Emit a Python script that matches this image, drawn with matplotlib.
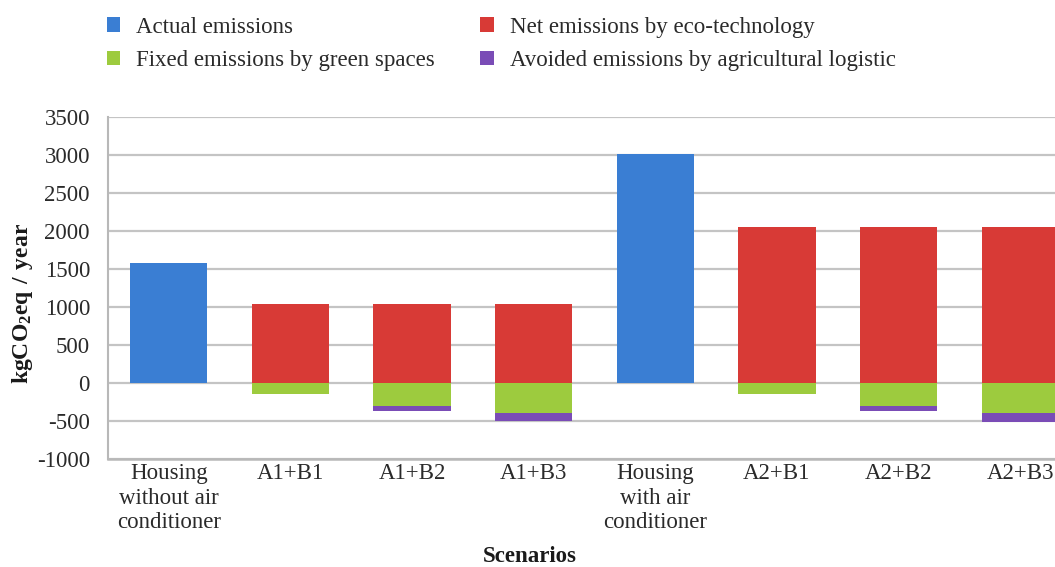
import matplotlib
matplotlib.use("Agg")
import matplotlib.pyplot as plt
import numpy as np

plt.rcParams["font.family"] = ["Liberation Serif", "DejaVu Serif"]
plt.rcParams["mathtext.fontset"] = "custom"
plt.rcParams["mathtext.rm"] = "Liberation Serif"
plt.rcParams["mathtext.bf"] = "Liberation Serif:bold"

categories = ["Housing\nwithout air\nconditioner", "A1+B1", "A1+B2", "A1+B3",
              "Housing\nwith air\nconditioner", "A2+B1", "A2+B2", "A2+B3"]
actual = [1580, 0, 0, 0, 3010, 0, 0, 0]
net_eco = [0, 1040, 1040, 1040, 0, 2050, 2050, 2050]
fixed_green = [0, -150, -305, -390, 0, -150, -305, -395]
avoided_agri = [0, 0, -60, -115, 0, 0, -65, -115]
yticks = [-1000, -500, 0, 500, 1000, 1500, 2000, 2500, 3000, 3500]

labels = ["Actual emissions", "Fixed emissions by green spaces",
          "Net emissions by eco-technology", "Avoided emissions by agricultural logistic"]
colors = {"actual": "#3a7ed3", "net": "#d83a36", "fixed": "#9dcb3e", "avoided": "#7a4cb6"}

W, H = 1055, 567
fig = plt.figure(figsize=(W / 100, H / 100), dpi=100)
ax = fig.add_axes([108 / W, (H - 459) / H, (1081 - 108) / W, (459 - 117) / H])

x = np.arange(len(categories))
bw = 0.635
b_act = ax.bar(x, actual, bw, color=colors["actual"], zorder=3)
b_net = ax.bar(x, net_eco, bw, color=colors["net"], zorder=3)
b_fix = ax.bar(x, fixed_green, bw, color=colors["fixed"], zorder=3)
b_avo = ax.bar(x, avoided_agri, bw, bottom=fixed_green, color=colors["avoided"], zorder=3)

ax.set_xlim(-0.5, len(categories) - 0.5)
ax.set_ylim(-1000, 3500)
ax.set_yticks(yticks)
ax.set_yticklabels([str(v) for v in yticks])
ax.set_xticks(x)
ax.set_xticklabels(categories, linespacing=1.22)
ax.tick_params(axis="both", length=0, labelsize=16.5)
ax.tick_params(axis="y", pad=13)
ax.tick_params(axis="x", pad=3)
for lab in ax.get_xticklabels() + ax.get_yticklabels():
    lab.set_color("#2a2a2a")

ax.grid(axis="y", color="#c4c4c4", linewidth=1.6, zorder=0)
for s in ["top", "right"]:
    ax.spines[s].set_visible(False)
ax.spines["left"].set_color("#b8b8b8")
ax.spines["left"].set_linewidth(1.5)
ax.spines["bottom"].set_color("#b8b8b8")
ax.spines["bottom"].set_linewidth(1.8)

fig.text(23 / W, 1 - 304 / H, r"$\mathbf{kgCO_{2}eq\ /\ year}$", rotation=90,
         ha="center", va="center", fontsize=17, color="#1a1a1a")
fig.text(530 / W, 1 - 557 / H, "Scenarios", ha="center", va="center",
         fontsize=16.5, fontweight="bold", color="#1a1a1a")

fig.legend([b_act, b_fix, b_net, b_avo], labels, ncol=2, loc="upper left",
           bbox_to_anchor=(102 / W, 1 - 12 / H), frameon=False, fontsize=16.5,
           handlelength=0.6, handleheight=0.6, handletextpad=0.7,
           columnspacing=1.95, labelspacing=0.55, borderaxespad=0, borderpad=0.2,
           labelcolor="#2a2a2a")

fig.savefig("out.png", dpi=100)
